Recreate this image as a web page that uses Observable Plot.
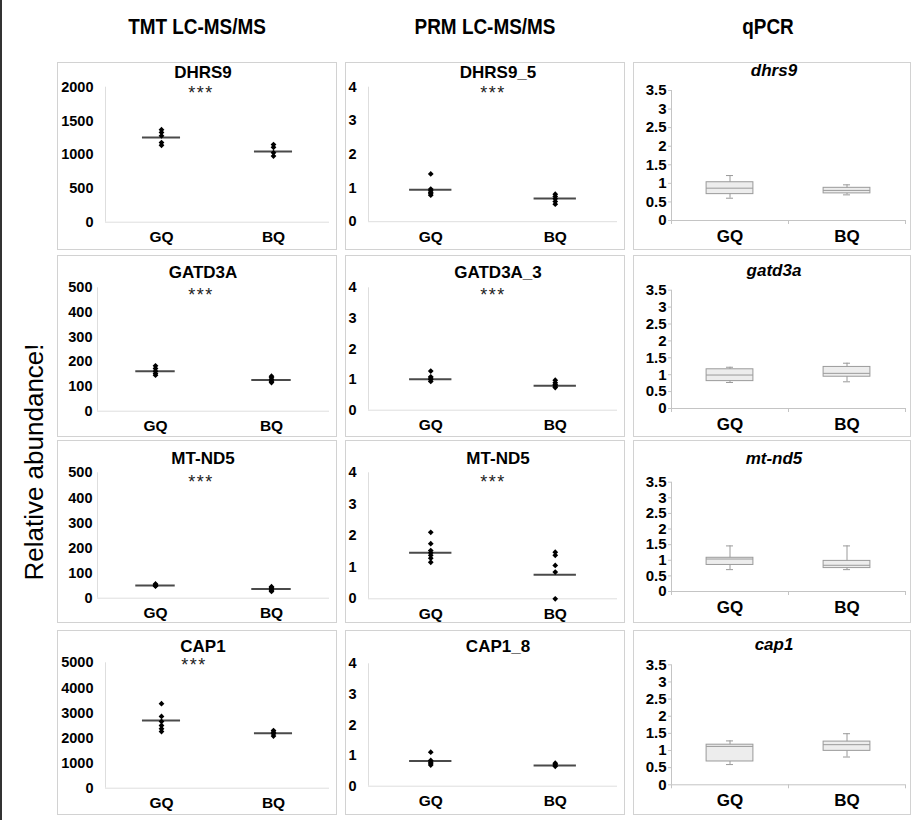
<!DOCTYPE html>
<html>
<head>
<meta charset="utf-8">
<script src="https://cdn.jsdelivr.net/npm/d3@7"></script>
<script src="https://cdn.jsdelivr.net/npm/@observablehq/plot@0.6"></script>
<style>
html,body{margin:0;padding:0;background:#fff;}
#root{position:relative;width:912px;height:820px;overflow:hidden;background:#fff;font-family:"Liberation Sans",Arial,Helvetica,sans-serif;color:#000;}
.lbl{position:absolute;white-space:nowrap;line-height:1;transform:translate(-50%,-50%);}
.box{position:absolute;box-sizing:border-box;border:1px solid #d2d2d2;}
</style>
</head>
<body>
<div id="root"></div>
<script>
// ---------------- DATA ----------------
const groups = ["GQ", "BQ"];
const columnTitles = ["TMT LC-MS/MS", "PRM LC-MS/MS", "qPCR"];
const yAxisTitle = "Relative abundance!";

const tmtTitles = ["DHRS9", "GATD3A", "MT-ND5", "CAP1"];
const prmTitles = ["DHRS9_5", "GATD3A_3", "MT-ND5", "CAP1_8"];
const qpcrTitles = ["dhrs9", "gatd3a", "mt-nd5", "cap1"];
const tmtSignif = ["***", "***", "***", "***"];
const prmSignif = ["***", "***", "***", ""];

const tmtTicks = [
  [0, 500, 1000, 1500, 2000],
  [0, 100, 200, 300, 400, 500],
  [0, 100, 200, 300, 400, 500],
  [0, 1000, 2000, 3000, 4000, 5000]
];
const prmTicks = [0, 1, 2, 3, 4];
const qpcrTicks = [0, 0.5, 1, 1.5, 2, 2.5, 3, 3.5];

// TMT LC-MS/MS replicate values
const tmtGQ = [
  [1370, 1330, 1280, 1180, 1140],
  [184, 173, 162, 153, 146],
  [57, 53, 50, 48],
  [3370, 2860, 2660, 2500, 2370, 2260]
];
const tmtBQ = [
  [1150, 1110, 1030, 980],
  [142, 136, 128, 121, 116],
  [46, 42, 37, 32, 27],
  [2300, 2230, 2170, 2080]
];
const tmtMeanGQ = [1255, 162, 51, 2700];
const tmtMeanBQ = [1047, 126, 37, 2190];

// PRM LC-MS/MS replicate values
const prmGQ = [
  [1.42, 0.97, 0.92, 0.87, 0.83, 0.79],
  [1.28, 1.09, 1.05, 1.00, 0.94],
  [2.11, 1.75, 1.53, 1.46, 1.38, 1.29, 1.16],
  [1.11, 0.84, 0.78, 0.73, 0.69]
];
const prmBQ = [
  [0.82, 0.75, 0.68, 0.60, 0.52],
  [0.98, 0.90, 0.84, 0.79, 0.74],
  [1.48, 1.38, 1.06, 0.85, 0.0],
  [0.75, 0.70, 0.65]
];
const prmMeanGQ = [0.95, 1.01, 1.46, 0.82];
const prmMeanBQ = [0.69, 0.80, 0.76, 0.68];

// qPCR box stats: [min, q1, median, q3, max]
const qpcrGQ = [
  [0.60, 0.71, 0.87, 1.03, 1.21],
  [0.77, 0.81, 0.99, 1.16, 1.22],
  [0.70, 0.85, 1.04, 1.08, 1.46],
  [0.59, 0.68, 1.12, 1.17, 1.28]
];
const qpcrBQ = [
  [0.69, 0.73, 0.81, 0.88, 0.96],
  [0.79, 0.94, 1.04, 1.23, 1.34],
  [0.70, 0.75, 0.84, 0.98, 1.46],
  [0.81, 0.99, 1.17, 1.26, 1.49]
];

// ---------------- LAYOUT ----------------
const FONT = '"Liberation Sans", Arial, Helvetica, sans-serif';
const cols = [
  {left: 57, width: 280, axisEnd: 329, titleX: 203, starX: 201},
  {left: 345, width: 280, axisEnd: 617, titleX: 498, starX: 493},
  {left: 633, width: 278, axisEnd: 905, titleX: 774, starX: 774}
];
const rows = [
  {top: 62, height: 188, tmt: [86.7, 221.7, 105, 12], prm: [86.7, 221.2], q: [90, 220], titleY: 72, starY: 90, qTitleY: 70},
  {top: 255, height: 182, tmt: [287.3, 410.7, 97, 5], prm: [287.3, 409.7], q: [289.7, 408], titleY: 272, starY: 292, qTitleY: 270},
  {top: 440, height: 183, tmt: [472.3, 597.7, 97, 5], prm: [472.3, 598.3], q: [481.7, 591], titleY: 458, starY: 479, qTitleY: 458},
  {top: 630, height: 185, tmt: [662.3, 787.7, 105, 12], prm: [663.3, 785.7], q: [664.3, 784.3], titleY: 646, starY: 662, qTitleY: 644}
];

const root = document.getElementById("root");

function addLabel(text, x, y, css) {
  const d = document.createElement("div");
  d.className = "lbl";
  d.textContent = text;
  d.style.left = x + "px";
  d.style.top = y + "px";
  Object.assign(d.style, css || {});
  root.appendChild(d);
  return d;
}

function place(svg, left, top) {
  svg.style.position = "absolute";
  svg.style.left = left + "px";
  svg.style.top = top + "px";
  svg.style.background = "transparent";
  svg.style.maxWidth = "none";
  svg.style.overflow = "visible";
  root.appendChild(svg);
}

const catLabel = d => groups[Math.floor(d)];
const half = 0.17;

function scatterPanel(c, r, yTop, yZero, axisX, tickPad, ticks, gq, bq, mGQ, mBQ) {
  const col = cols[c], row = rows[r];
  const pts = [...gq.map(v => ({i: 0, v})), ...bq.map(v => ({i: 1, v}))];
  const means = [{i: 0, v: mGQ}, {i: 1, v: mBQ}];
  return Plot.plot({
    width: col.width,
    height: row.height,
    marginLeft: axisX - col.left,
    marginRight: col.left + col.width - col.axisEnd,
    marginTop: yTop - row.top,
    marginBottom: row.top + row.height - yZero,
    style: {fontFamily: FONT, fontWeight: "bold", color: "#000"},
    x: {type: "linear", domain: [0, 2]},
    y: {domain: [0, ticks[ticks.length - 1]], label: null},
    marks: [
      Plot.ruleY([0], {stroke: "#dedede"}),
      Plot.ruleX([0], {stroke: "#dedede"}),
      Plot.axisY({ticks, tickSize: 0, tickPadding: tickPad, tickFormat: d => String(d), fontSize: 14.5, label: null}),
      Plot.axisX({ticks: [0.5, 1.5], tickSize: 0, tickPadding: 9, tickFormat: catLabel, fontSize: 15.5, label: null}),
      Plot.ruleY(means, {y: "v", x1: d => d.i + 0.5 - half, x2: d => d.i + 0.5 + half, stroke: "#4a4a4a", strokeWidth: 2}),
      Plot.dot(pts, {x: d => d.i + 0.5, y: "v", symbol: "diamond2", r: 2.6, fill: "#000"})
    ]
  });
}

function boxPanel(r, gq, bq) {
  const col = cols[2], row = rows[r];
  const [yTop, yZero] = row.q;
  const axisX = 671;
  const toStat = (s, i) => ({i, min: s[0], q1: s[1], med: s[2], q3: s[3], max: s[4]});
  const stats = [toStat(gq, 0), toStat(bq, 1)];
  const bw = 0.2, cw = 0.03;
  return Plot.plot({
    width: col.width,
    height: row.height,
    marginLeft: axisX - col.left,
    marginRight: col.left + col.width - col.axisEnd,
    marginTop: yTop - row.top,
    marginBottom: row.top + row.height - yZero,
    style: {fontFamily: FONT, fontWeight: "bold", color: "#000"},
    x: {type: "linear", domain: [0, 2]},
    y: {domain: [0, 3.5], label: null},
    marks: [
      Plot.ruleY([0], {stroke: "#c4c4c4"}),
      Plot.ruleX([0], {stroke: "#c4c4c4"}),
      Plot.axisY({ticks: qpcrTicks, tickSize: 3, stroke: "#c4c4c4", tickPadding: 2, tickFormat: d => String(d), fontSize: 15, label: null}),
      Plot.axisX({ticks: [0, 1, 2], tickSize: 4, stroke: "#c4c4c4", tickFormat: () => "", label: null}),
      Plot.axisX({ticks: [0.5, 1.5], tickSize: 0, tickPadding: 9, tickFormat: catLabel, fontSize: 17, label: null}),
      Plot.ruleX(stats, {x: d => d.i + 0.5, y1: "min", y2: "max", stroke: "#9a9a9a"}),
      Plot.ruleY(stats, {y: "min", x1: d => d.i + 0.5 - cw, x2: d => d.i + 0.5 + cw, stroke: "#9a9a9a"}),
      Plot.ruleY(stats, {y: "max", x1: d => d.i + 0.5 - cw, x2: d => d.i + 0.5 + cw, stroke: "#9a9a9a"}),
      Plot.rect(stats, {x1: d => d.i + 0.5 - bw, x2: d => d.i + 0.5 + bw, y1: "q1", y2: "q3", fill: "#ededed", stroke: "#9a9a9a"}),
      Plot.ruleY(stats, {y: "med", x1: d => d.i + 0.5 - bw, x2: d => d.i + 0.5 + bw, stroke: "#9a9a9a"})
    ]
  });
}

// frame line at left edge
const edge = document.createElement("div");
Object.assign(edge.style, {position: "absolute", left: "0px", top: "0px", width: "2px", height: "820px", background: "#333"});
root.appendChild(edge);

// panel borders
rows.forEach(row => cols.forEach(col => {
  const b = document.createElement("div");
  b.className = "box";
  Object.assign(b.style, {left: col.left + "px", top: row.top + "px", width: col.width + "px", height: row.height + "px"});
  root.appendChild(b);
}));

// column headers and y title
[197, 485, 768].forEach((x, i) => addLabel(columnTitles[i], x, 27, {fontWeight: "bold", fontSize: "22px", transform: "translate(-50%,-50%) scaleX(0.86)"}));
addLabel(yAxisTitle, 34, 462, {fontSize: "26px", transform: "translate(-50%,-50%) rotate(-90deg)"});

rows.forEach((row, r) => {
  const [ty, tz, ax, tp] = row.tmt;
  place(scatterPanel(0, r, ty, tz, ax, tp, tmtTicks[r], tmtGQ[r], tmtBQ[r], tmtMeanGQ[r], tmtMeanBQ[r]), cols[0].left, row.top);
  const [py, pz] = row.prm;
  place(scatterPanel(1, r, py, pz, 368, 12, prmTicks, prmGQ[r], prmBQ[r], prmMeanGQ[r], prmMeanBQ[r]), cols[1].left, row.top);
  place(boxPanel(r, qpcrGQ[r], qpcrBQ[r]), cols[2].left, row.top);

  addLabel(tmtTitles[r], cols[0].titleX, row.titleY, {fontWeight: "bold", fontSize: "17px"});
  addLabel(prmTitles[r], cols[1].titleX, row.titleY, {fontWeight: "bold", fontSize: "17px"});
  addLabel(qpcrTitles[r], cols[2].titleX, row.qTitleY, {fontWeight: "bold", fontStyle: "italic", fontSize: "17px"});
  const starCss = {fontSize: "18px", letterSpacing: "1.5px", color: "#222"};
  if (tmtSignif[r]) addLabel(tmtSignif[r], cols[0].starX - (r === 3 ? 7 : 0), row.starY + 3, starCss);
  if (prmSignif[r]) addLabel(prmSignif[r], cols[1].starX, row.starY + 3, starCss);
});
</script>
</body>
</html>
